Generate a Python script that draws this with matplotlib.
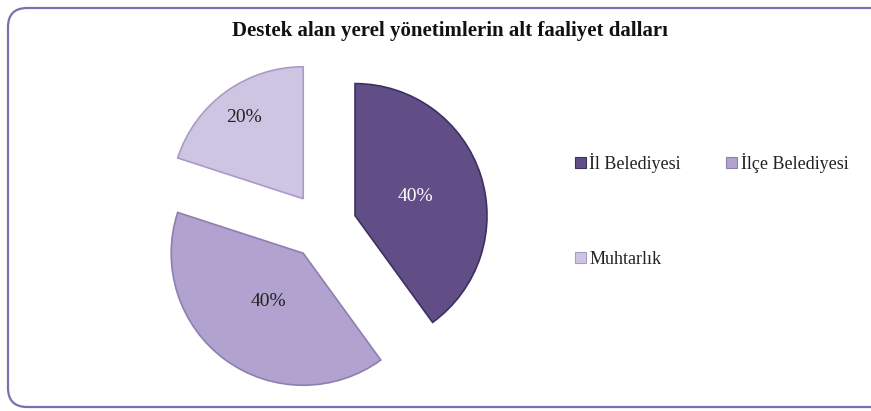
import matplotlib
matplotlib.use("Agg")
import matplotlib.pyplot as plt
from matplotlib.patches import FancyBboxPatch, Patch
import numpy as np

title = "Destek alan yerel yönetimlerin alt faaliyet dalları"
categories = ["İl Belediyesi", "İlçe Belediyesi", "Muhtarlık"]
values = [40, 40, 20]
colors = ["#614E86", "#B1A2CF", "#CEC5E2"]
edge_colors = ["#3E3060", "#8E7FB0", "#A89CC6"]
text_colors = ["white", "#222222", "#222222"]
pct_dist = [0.48, 0.45, 0.76]

plt.rcParams['font.family'] = ['Liberation Serif', 'DejaVu Serif']

W, H = 871, 411
fig = plt.figure(figsize=(W / 100, H / 100), dpi=100)

# rounded frame
frame = FancyBboxPatch((8 / W, 4 / H), (W + 20 - 8) / W, (H - 8 - 4) / H,
                       boxstyle="round,pad=0,rounding_size=0.022",
                       transform=fig.transFigure, facecolor="white",
                       edgecolor="#7E6EB0", linewidth=1.6, zorder=-5,
                       mutation_aspect=W / H)
fig.patches.append(frame)

cx, cy, r = 323, H - 226, 132
half = 170
ax = fig.add_axes([(cx - half) / W, (cy - half) / H, 2 * half / W, 2 * half / H])
ax.patch.set_alpha(0)
ax.set_zorder(2)

wedges, _ = ax.pie(values, colors=colors, startangle=90, counterclock=False,
                   explode=[0.255] * len(values),
                   wedgeprops=dict(linewidth=1.2))
for w, ec in zip(wedges, edge_colors):
    w.set_edgecolor(ec)

total = sum(values)
for w, v, d, tc in zip(wedges, values, pct_dist, text_colors):
    ang = np.deg2rad((w.theta1 + w.theta2) / 2)
    x0, y0 = w.center
    ax.text(x0 + d * np.cos(ang), y0 + d * np.sin(ang), f"{v / total * 100:.0f}%",
            ha="center", va="center", fontsize=14, color=tc)

lim = half / r
ax.set_xlim(-lim, lim)
ax.set_ylim(-lim, lim)
ax.set_aspect("equal")
ax.axis("off")

fig.text(450 / W, 1 - 31 / H, title, ha="center", va="center",
         fontsize=15, fontweight="bold", color="#111111")

handles = [Patch(facecolor=c, edgecolor=ec, linewidth=0.8) for c, ec in zip(colors, edge_colors)]
order = [0, 2, 1]
leg = fig.legend([handles[i] for i in order], [categories[i] for i in order],
                 ncol=2, loc="upper left",
                 bbox_to_anchor=(575 / W, 1 - 153 / H), frameon=False,
                 fontsize=13, handlelength=0.6, handleheight=0.6,
                 handletextpad=0.2, labelspacing=4.3, columnspacing=2.5,
                 borderpad=0, borderaxespad=0)
for t in leg.get_texts():
    t.set_color("#222222")

fig.savefig("out.png", dpi=100)
